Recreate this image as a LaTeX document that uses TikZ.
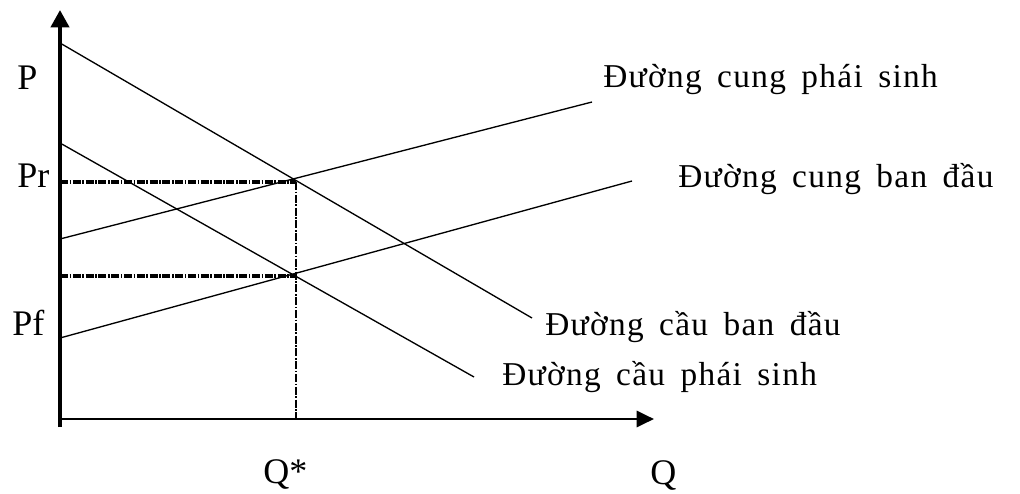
\documentclass[tikz,border=0pt]{standalone}
\usepackage{fontspec}
\setmainfont{Liberation Serif}
\newfontfamily\labfont[LetterSpace=4,WordSpace=1.6]{Liberation Serif}
\usetikzlibrary{arrows.meta}
\begin{document}
\begin{tikzpicture}[x=0.75pt,y=-0.75pt,
  yaxis/.style={line width=3pt,-{Triangle[length=13pt,width=13.5pt]}},
  xaxis/.style={line width=2.2pt,-{Triangle[length=13pt,width=12pt]}},
  curve/.style={line width=1pt},
  guide/.style={line width=2.4pt,dash pattern=on 6pt off 1.2pt on 1.2pt off 1.2pt},
  vguide/.style={line width=1.6pt,dash pattern=on 6pt off 1.2pt on 1.2pt off 1.2pt},
  lab/.style={anchor=base west,inner sep=0pt,font=\labfont\fontsize{25}{30}\selectfont},
  plab/.style={anchor=base west,inner sep=0pt,font=\fontsize{27}{32}\selectfont}]
\useasboundingbox (0,0) rectangle (1020,493);
% coordinates
\coordinate (ybot) at (60,427);
\coordinate (ytop) at (60,10);
\coordinate (xleft) at (58,419);
\coordinate (xright) at (654,419);
\coordinate (d1a) at (60,43);
\coordinate (d1b) at (532,318);
\coordinate (d2a) at (60,143);
\coordinate (d2b) at (474,377);
\coordinate (s2a) at (60,239);
\coordinate (s2b) at (592,102);
\coordinate (s1a) at (60,338);
\coordinate (s1b) at (632,181);
\coordinate (E1) at (296,182);
\coordinate (E2) at (296,276);
\coordinate (pr) at (60,182);
\coordinate (pm) at (60,276);
\coordinate (qs) at (296,419);
% guides
\draw[guide] (pr) -- (E1);
\draw[guide] (pm) -- (E2);
\draw[vguide] (E1) -- (qs);
% curves
\draw[curve] (d1a) -- (d1b);
\draw[curve] (d2a) -- (d2b);
\draw[curve] (s2a) -- (s2b);
\draw[curve] (s1a) -- (s1b);
% axes
\draw[xaxis] (xleft) -- (xright);
\draw[yaxis] (ybot) -- (ytop);
% labels
\node[plab] (lP) at (17,89) {P};
\node[plab] (lPr) at (17,187) {Pr};
\node[plab] (lPf) at (12,335) {Pf};
\node[plab] (lQs) at (263,483) {Q*};
\node[plab] (lQ) at (650,484) {Q};
\node[lab] (ls2) at (603,87) {Đường cung phái sinh};
\node[lab] (ls1) at (678,187) {Đường cung ban đầu};
\node[lab] (ld1) at (545,335) {Đường cầu ban đầu};
\node[lab] (ld2) at (502,385) {Đường cầu phái sinh};
\end{tikzpicture}
\end{document}
